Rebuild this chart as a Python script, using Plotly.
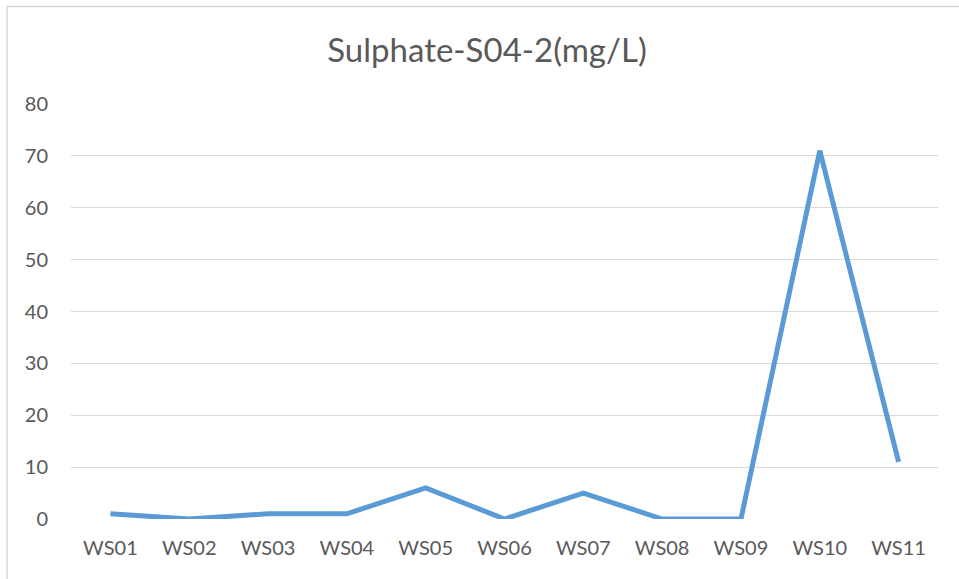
import plotly.graph_objects as go

categories = ["WS01", "WS02", "WS03", "WS04", "WS05", "WS06", "WS07", "WS08", "WS09", "WS10", "WS11"]
sulphate = [1, 0, 1, 1, 6, 0, 5, 0, 0, 71, 11]
y_ticks = [0, 10, 20, 30, 40, 50, 60, 70, 80]

fig = go.Figure()
fig.add_trace(go.Scatter(
    x=categories, y=sulphate, mode="lines",
    line=dict(color="#5B9BD5", width=5),
    hoverinfo="x+y",
))

font_family = "Lato, 'Open Sans', sans-serif"
fig.update_layout(
    width=959, height=579,
    margin=dict(l=71, r=21, t=104, b=60, autoexpand=False),
    paper_bgcolor="white", plot_bgcolor="white",
    showlegend=False,
    title=dict(text="Sulphate-S04-2(mg/L)", x=487/959, xref="container", xanchor="center",
               y=1 - 50/579, yref="container", yanchor="middle",
               font=dict(family=font_family, size=33, color="#595959")),
    font=dict(family=font_family, color="#595959"),
)
fig.update_xaxes(
    type="category", range=[-0.5, len(categories) - 0.5],
    showgrid=False, zeroline=False, showline=False,
    ticks="", tickfont=dict(size=20, color="#595959"), ticklabelstandoff=15,
)
fig.update_yaxes(
    range=[0, 80], tickvals=y_ticks, showgrid=True, gridcolor="#D9D9D9", gridwidth=1.3,
    zeroline=False, showline=False, ticks="",
    tickfont=dict(size=20, color="#595959"), ticklabelstandoff=22,
)
fig.add_shape(type="rect", xref="paper", yref="paper",
              x0=(7 - 71) / 867, x1=1.1, y0=-0.3, y1=1 + (104 - 6.5) / 415,
              line=dict(color="#D9D9D9", width=1.5), fillcolor="rgba(0,0,0,0)", layer="below")

fig.write_html("out.html", config={"displayModeBar": False},
               post_script="document.body.style.margin='0';")
